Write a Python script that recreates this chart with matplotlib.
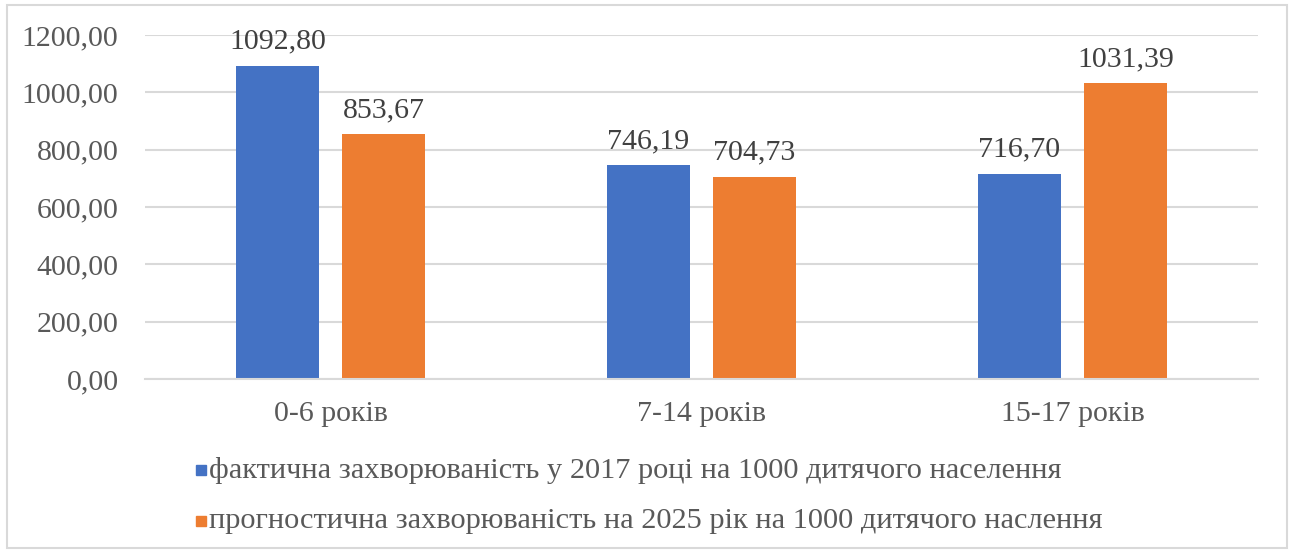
import numpy as np
import matplotlib.pyplot as plt
from matplotlib.patches import Rectangle

categories = ['0-6 років', '7-14 років', '15-17 років']
fact_2017 = [1092.80, 746.19, 716.70]
forecast_2025 = [853.67, 704.73, 1031.39]
series_names = ['фактична захворюваність у 2017 році на 1000 дитячого населення',
                'прогностична захворюваність на 2025 рік на 1000 дитячого наслення']
yticks = [0, 200, 400, 600, 800, 1000, 1200]

blue = '#4472c4'
orange = '#ed7d31'
txt = '#595959'

plt.rcParams['font.family'] = ['Liberation Serif', 'DejaVu Serif']

fig = plt.figure(figsize=(12.93, 5.51), dpi=100)
ax = fig.add_axes([145/1293, 1-379/551, 1113/1293, 344/551])

x = np.arange(len(categories))
w = 0.224
off = 0.143
b1 = ax.bar(x - off, fact_2017, w, color=blue)
b2 = ax.bar(x + off, forecast_2025, w, color=orange)

def fmt(v):
    return f'{v:.2f}'.replace('.', ',')

for bars, vals in [(b1, fact_2017), (b2, forecast_2025)]:
    for r, v in zip(bars, vals):
        ax.annotate(fmt(v), (r.get_x() + r.get_width()/2, v), xytext=(0, 8),
                    textcoords='offset points', ha='center', va='bottom',
                    fontsize=21.5, color='#404040')

ax.set_xlim(-0.5, 2.5)
ax.set_ylim(0, 1200)
ax.set_yticks(yticks)
ax.set_yticklabels([fmt(t) for t in yticks], fontsize=21.5, color=txt)
ax.set_xticks(x)
ax.set_xticklabels(categories, fontsize=21.5, color=txt)
ax.tick_params(length=0, pad=16)
ax.tick_params(axis='y', pad=19)
ax.grid(axis='y', color='#d9d9d9', linewidth=1.5)
ax.set_axisbelow(True)
for s in ['top', 'right', 'left']:
    ax.spines[s].set_visible(False)
ax.spines['bottom'].set_color('#d9d9d9')
ax.spines['bottom'].set_linewidth(1.5)

# legend drawn by hand: colour squares and text lines
for i, (name, c) in enumerate(zip(series_names, [blue, orange])):
    yc = 1 - (470 + 51*i)/551
    fig.patches.append(Rectangle((196/1293, yc - 5/551), 10/1293, 10/551,
                                 transform=fig.transFigure, color=c))
    fig.text(209/1293, yc, name, fontsize=21.9, color=txt, va='center', ha='left')

fig.patches.append(Rectangle((7/1293, 3/551), 1280/1293, 543/551, transform=fig.transFigure,
                             fill=False, edgecolor='#d9d9d9', linewidth=1.5))

fig.savefig('out.png', dpi=100)
